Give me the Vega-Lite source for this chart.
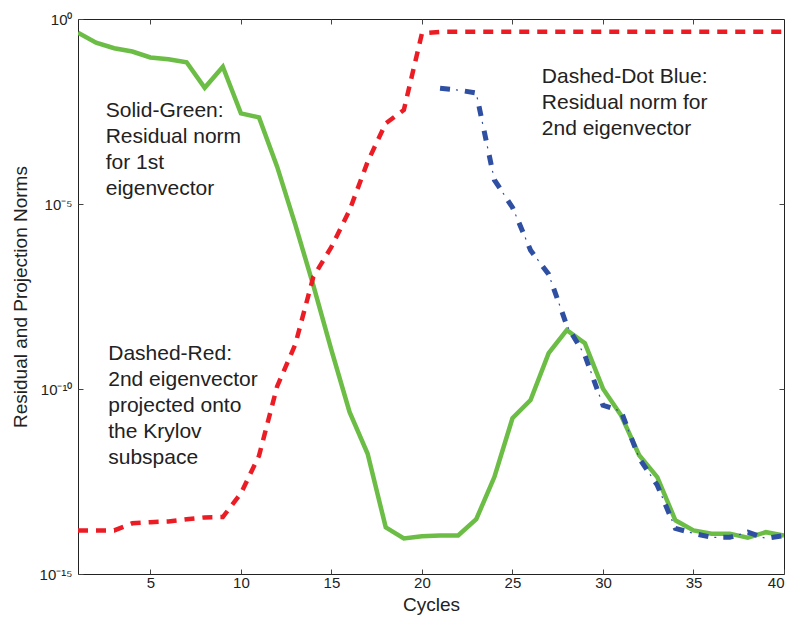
{
  "$schema": "https://vega.github.io/schema/vega-lite/v6.json",
  "width": 706,
  "height": 555,
  "autosize": "none",
  "padding": {"left": 78, "top": 19, "right": 13, "bottom": 46},
  "background": "white",
  "config": {
    "font": "Liberation Sans",
    "view": {"stroke": "#222222", "strokeWidth": 1},
    "axis": {
      "domain": false,
      "grid": false,
      "tickColor": "#444444",
      "tickSize": -5,
      "labelFont": "Liberation Sans",
      "labelFontSize": 15,
      "labelColor": "#222222",
      "titleFont": "Liberation Sans",
      "titleFontSize": 19,
      "titleFontWeight": "normal",
      "titleColor": "#222222"
    }
  },
  "datasets": {
    "lines": [
      {"cycle": 1, "series": "green", "norm": 0.427},
      {"cycle": 2, "series": "green", "norm": 0.229},
      {"cycle": 3, "series": "green", "norm": 0.162},
      {"cycle": 4, "series": "green", "norm": 0.132},
      {"cycle": 5, "series": "green", "norm": 0.0912},
      {"cycle": 6, "series": "green", "norm": 0.0813},
      {"cycle": 7, "series": "green", "norm": 0.0676},
      {"cycle": 8, "series": "green", "norm": 0.0138},
      {"cycle": 9, "series": "green", "norm": 0.0513},
      {"cycle": 10, "series": "green", "norm": 0.00282},
      {"cycle": 11, "series": "green", "norm": 0.00219},
      {"cycle": 12, "series": "green", "norm": 1.02e-4},
      {"cycle": 13, "series": "green", "norm": 2.82e-6},
      {"cycle": 14, "series": "green", "norm": 6.31e-8},
      {"cycle": 15, "series": "green", "norm": 1.12e-9},
      {"cycle": 16, "series": "green", "norm": 2.40e-11},
      {"cycle": 17, "series": "green", "norm": 1.78e-12},
      {"cycle": 18, "series": "green", "norm": 1.82e-14},
      {"cycle": 19, "series": "green", "norm": 9.12e-15},
      {"cycle": 20, "series": "green", "norm": 1.05e-14},
      {"cycle": 21, "series": "green", "norm": 1.10e-14},
      {"cycle": 22, "series": "green", "norm": 1.10e-14},
      {"cycle": 23, "series": "green", "norm": 3.02e-14},
      {"cycle": 24, "series": "green", "norm": 4.17e-13},
      {"cycle": 25, "series": "green", "norm": 1.62e-11},
      {"cycle": 26, "series": "green", "norm": 5.01e-11},
      {"cycle": 27, "series": "green", "norm": 9.33e-10},
      {"cycle": 28, "series": "green", "norm": 3.89e-9},
      {"cycle": 29, "series": "green", "norm": 1.74e-9},
      {"cycle": 30, "series": "green", "norm": 1.02e-10},
      {"cycle": 31, "series": "green", "norm": 1.95e-11},
      {"cycle": 32, "series": "green", "norm": 1.62e-12},
      {"cycle": 33, "series": "green", "norm": 4.17e-13},
      {"cycle": 34, "series": "green", "norm": 2.82e-14},
      {"cycle": 35, "series": "green", "norm": 1.51e-14},
      {"cycle": 36, "series": "green", "norm": 1.23e-14},
      {"cycle": 37, "series": "green", "norm": 1.23e-14},
      {"cycle": 38, "series": "green", "norm": 9.55e-15},
      {"cycle": 39, "series": "green", "norm": 1.35e-14},
      {"cycle": 40, "series": "green", "norm": 1.10e-14},
      {"cycle": 1, "series": "red", "norm": 1.51e-14},
      {"cycle": 2, "series": "red", "norm": 1.51e-14},
      {"cycle": 3, "series": "red", "norm": 1.51e-14},
      {"cycle": 4, "series": "red", "norm": 2.34e-14},
      {"cycle": 5, "series": "red", "norm": 2.51e-14},
      {"cycle": 6, "series": "red", "norm": 2.63e-14},
      {"cycle": 7, "series": "red", "norm": 3.02e-14},
      {"cycle": 8, "series": "red", "norm": 3.39e-14},
      {"cycle": 9, "series": "red", "norm": 3.47e-14},
      {"cycle": 10, "series": "red", "norm": 1.51e-13},
      {"cycle": 11, "series": "red", "norm": 1.58e-12},
      {"cycle": 12, "series": "red", "norm": 1.17e-10},
      {"cycle": 13, "series": "red", "norm": 1.58e-9},
      {"cycle": 14, "series": "red", "norm": 1.07e-7},
      {"cycle": 15, "series": "red", "norm": 6.92e-7},
      {"cycle": 16, "series": "red", "norm": 6.76e-6},
      {"cycle": 17, "series": "red", "norm": 1.38e-4},
      {"cycle": 18, "series": "red", "norm": 1.51e-3},
      {"cycle": 19, "series": "red", "norm": 3.47e-3},
      {"cycle": 20, "series": "red", "norm": 0.41},
      {"cycle": 21, "series": "red", "norm": 0.45},
      {"cycle": 22, "series": "red", "norm": 0.45},
      {"cycle": 23, "series": "red", "norm": 0.45},
      {"cycle": 24, "series": "red", "norm": 0.45},
      {"cycle": 25, "series": "red", "norm": 0.45},
      {"cycle": 26, "series": "red", "norm": 0.45},
      {"cycle": 27, "series": "red", "norm": 0.45},
      {"cycle": 28, "series": "red", "norm": 0.45},
      {"cycle": 29, "series": "red", "norm": 0.45},
      {"cycle": 30, "series": "red", "norm": 0.45},
      {"cycle": 31, "series": "red", "norm": 0.45},
      {"cycle": 32, "series": "red", "norm": 0.45},
      {"cycle": 33, "series": "red", "norm": 0.45},
      {"cycle": 34, "series": "red", "norm": 0.45},
      {"cycle": 35, "series": "red", "norm": 0.45},
      {"cycle": 36, "series": "red", "norm": 0.45},
      {"cycle": 37, "series": "red", "norm": 0.45},
      {"cycle": 38, "series": "red", "norm": 0.45},
      {"cycle": 39, "series": "red", "norm": 0.45},
      {"cycle": 40, "series": "red", "norm": 0.45},
      {"cycle": 21, "series": "blue", "norm": 0.0135},
      {"cycle": 22, "series": "blue", "norm": 0.0120},
      {"cycle": 23, "series": "blue", "norm": 0.0100},
      {"cycle": 24, "series": "blue", "norm": 4.47e-5},
      {"cycle": 25, "series": "blue", "norm": 8.13e-6},
      {"cycle": 26, "series": "blue", "norm": 5.62e-7},
      {"cycle": 27, "series": "blue", "norm": 1.26e-7},
      {"cycle": 28, "series": "blue", "norm": 5.25e-9},
      {"cycle": 29, "series": "blue", "norm": 8.13e-10},
      {"cycle": 30, "series": "blue", "norm": 3.63e-11},
      {"cycle": 31, "series": "blue", "norm": 2.51e-11},
      {"cycle": 32, "series": "blue", "norm": 1.35e-12},
      {"cycle": 33, "series": "blue", "norm": 2.51e-13},
      {"cycle": 34, "series": "blue", "norm": 1.70e-14},
      {"cycle": 35, "series": "blue", "norm": 1.26e-14},
      {"cycle": 36, "series": "blue", "norm": 9.77e-15},
      {"cycle": 37, "series": "blue", "norm": 9.77e-15},
      {"cycle": 38, "series": "blue", "norm": 1.35e-14},
      {"cycle": 39, "series": "blue", "norm": 9.12e-15},
      {"cycle": 40, "series": "blue", "norm": 1.10e-14}
    ],
    "notes": [
      {"cycle": 2.53, "norm": 2.28e-3, "label": "Solid-Green:\nResidual norm\nfor 1st\neigenvector"},
      {"cycle": 2.67, "norm": 5.97e-10, "label": "Dashed-Red:\n2nd eigenvector\nprojected onto\nthe Krylov\nsubspace"},
      {"cycle": 26.62, "norm": 1.82e-2, "label": "Dashed-Dot Blue:\nResidual norm for\n2nd eigenvector"}
    ]
  },
  "resolve": {"axis": {"x": "independent", "y": "independent"}},
  "layer": [
    {
      "data": {"name": "lines"},
      "transform": [{"filter": "datum.series === 'green'"}],
      "mark": {"type": "line", "color": "#6cbd45", "strokeWidth": 4.5, "strokeJoin": "miter", "clip": true},
      "encoding": {
        "x": {"field": "cycle", "type": "quantitative",
              "scale": {"domain": [1, 40], "nice": false, "zero": false},
              "axis": {"orient": "bottom", "title": "Cycles", "values": [5, 10, 15, 20, 25, 30, 35, 40], "labelPadding": 6, "titlePadding": 5}},
        "y": {"field": "norm", "type": "quantitative",
              "scale": {"type": "log", "domain": [1e-15, 1], "nice": false},
              "axis": {"orient": "left", "title": "Residual and Projection Norms", "values": [1e-15, 1e-10, 1e-5, 1],
                       "labelExpr": "datum.value >= 0.5 ? '10⁰' : datum.value >= 5e-6 ? '10⁻⁵' : datum.value >= 5e-11 ? '10⁻¹⁰' : '10⁻¹⁵'",
                       "labelPadding": 11, "titlePadding": 9}}
      }
    },
    {
      "data": {"name": "lines"},
      "transform": [{"filter": "datum.series === 'red'"}],
      "mark": {"type": "line", "color": "#ec1c24", "strokeWidth": 4.5, "strokeDash": [10, 8], "strokeCap": "butt", "clip": true},
      "encoding": {
        "x": {"field": "cycle", "type": "quantitative",
              "axis": {"orient": "top", "title": null, "values": [5, 10, 15, 20, 25, 30, 35], "labels": false}},
        "y": {"field": "norm", "type": "quantitative",
              "axis": {"orient": "right", "title": null, "values": [1e-10, 1e-5], "labels": false}}
      }
    },
    {
      "data": {"name": "lines"},
      "transform": [{"filter": "datum.series === 'blue'"}],
      "mark": {"type": "line", "color": "#2f4fa2", "strokeWidth": 5, "strokeDash": [10, 15], "strokeCap": "butt", "clip": true},
      "encoding": {
        "x": {"field": "cycle", "type": "quantitative", "axis": null},
        "y": {"field": "norm", "type": "quantitative", "axis": null}
      }
    },
    {
      "data": {"name": "lines"},
      "transform": [{"filter": "datum.series === 'blue'"}],
      "mark": {"type": "line", "color": "#2f4fa2", "strokeWidth": 1.2, "strokeDash": [2, 23], "strokeDashOffset": 9, "strokeCap": "butt", "clip": true},
      "encoding": {
        "x": {"field": "cycle", "type": "quantitative", "axis": null},
        "y": {"field": "norm", "type": "quantitative", "axis": null}
      }
    },
    {
      "data": {"name": "notes"},
      "mark": {"type": "text", "align": "left", "baseline": "alphabetic", "fontSize": 21, "lineHeight": 26, "color": "#222222", "lineBreak": "\n"},
      "encoding": {
        "x": {"field": "cycle", "type": "quantitative", "axis": null},
        "y": {"field": "norm", "type": "quantitative", "axis": null},
        "text": {"field": "label"}
      }
    }
  ]
}
